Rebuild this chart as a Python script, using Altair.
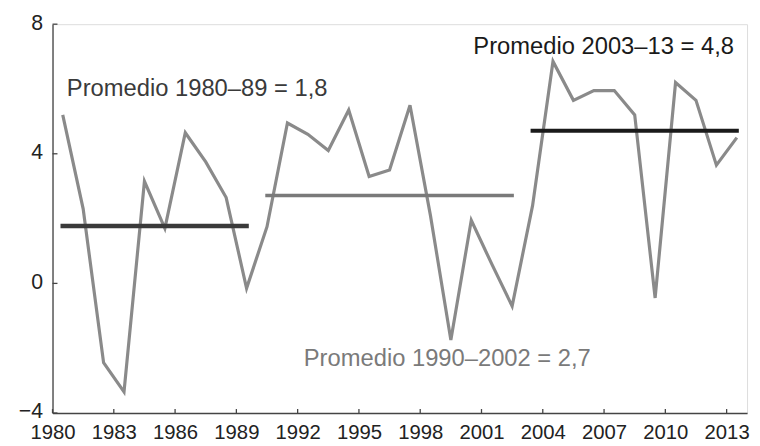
import altair as alt
import pandas as pd

years = list(range(1980, 2014))
values = [5.2, 2.3, -2.45, -3.35, 3.15, 1.7, 4.65, 3.75, 2.65, -0.15,
          1.75, 4.95, 4.6, 4.1, 5.35, 3.3, 3.5, 5.5, 2.1, -1.75,
          1.95, 0.6, -0.7, 2.4, 6.85, 5.65, 5.95, 5.95, 5.2, -0.45,
          6.2, 5.65, 3.65, 4.5]

avg_start = [1980, 1990, 2003]
avg_end = [1989, 2002, 2013]
avg_value = [1.77, 2.71, 4.71]
avg_color = ["#3a3a3a", "#7a7a7a", "#1a1a1a"]
avg_width = [4.5, 3.5, 4]

labels = ["Promedio 1980\u201389 = 1,8", "Promedio 1990\u20132002 = 2,7", "Promedio 2003\u201313 = 4,8"]
label_x = [1980.7, 1992.3, 2000.6]
label_y = [6.0, -2.35, 7.3]
label_color = ["#3a3a3a", "#7a7a7a", "#1a1a1a"]

x_ticks = list(range(1980, 2014, 3))
y_ticks = [-4, 0, 4, 8]

FONT = "Liberation Sans"
W, H = 702, 393

df = pd.DataFrame({"year": [y + 0.5 for y in years], "value": values})
avg_df = pd.DataFrame({"x1": [s + 0.5 for s in avg_start], "x2": [e + 0.5 for e in avg_end],
                       "v": avg_value, "c": avg_color, "w": avg_width})
lab_df = pd.DataFrame({"x": label_x, "y": label_y, "t": labels, "c": label_color})
xt_df = pd.DataFrame({"x": x_ticks})
yt_df = pd.DataFrame({"y": y_ticks})

xscale = alt.Scale(domain=[1980, 2014], nice=False, zero=False)
yscale = alt.Scale(domain=[-4, 8], nice=False, zero=False)

xaxis = alt.Axis(values=x_ticks, format="d", ticks=False, labelFont=FONT, labelFontSize=20.5,
                 labelColor="#222222", labelPadding=10, domainColor="#444444", domainWidth=1.3,
                 grid=False, title=None, labelFlush=False, labelOverlap=False)
yaxis = alt.Axis(values=y_ticks, ticks=False, labelFont=FONT, labelFontSize=21.5,
                 labelColor="#222222", labelPadding=10, labelOffset=-1, domainColor="#444444",
                 domainWidth=1.3, grid=False, title=None)

line = alt.Chart(df).mark_line(color="#8a8a8a", strokeWidth=3.2).encode(
    x=alt.X("year:Q", scale=xscale, axis=xaxis),
    y=alt.Y("value:Q", scale=yscale, axis=yaxis),
)

avgs = alt.Chart(avg_df).mark_rule(strokeCap="square").encode(
    x=alt.X("x1:Q", scale=xscale),
    x2="x2:Q",
    y=alt.Y("v:Q", scale=yscale),
    color=alt.Color("c:N", scale=None),
    strokeWidth=alt.StrokeWidth("w:Q", scale=None),
)

texts = alt.Chart(lab_df).mark_text(font=FONT, fontSize=24, align="left", baseline="middle").encode(
    x=alt.X("x:Q", scale=xscale),
    y=alt.Y("y:Q", scale=yscale),
    text="t:N",
    color=alt.Color("c:N", scale=None),
)

xticks = alt.Chart(xt_df).mark_rule(color="#444444", strokeWidth=1.3).encode(
    x=alt.X("x:Q", scale=xscale),
    y=alt.value(H - 4),
    y2=alt.value(H),
)

yticks = alt.Chart(yt_df).mark_rule(color="#444444", strokeWidth=1.3).encode(
    y=alt.Y("y:Q", scale=yscale),
    x=alt.value(0),
    x2=alt.value(5),
)

chart = alt.layer(line, avgs, texts, xticks, yticks).properties(
    width=W, height=H,
    autosize=alt.AutoSizeParams(type="none"),
    padding={"left": 45, "top": 14, "right": 5, "bottom": 31},
).configure_view(stroke=None).configure(background="white")

chart.save("out.html", embed_options={"renderer": "svg", "actions": False})
